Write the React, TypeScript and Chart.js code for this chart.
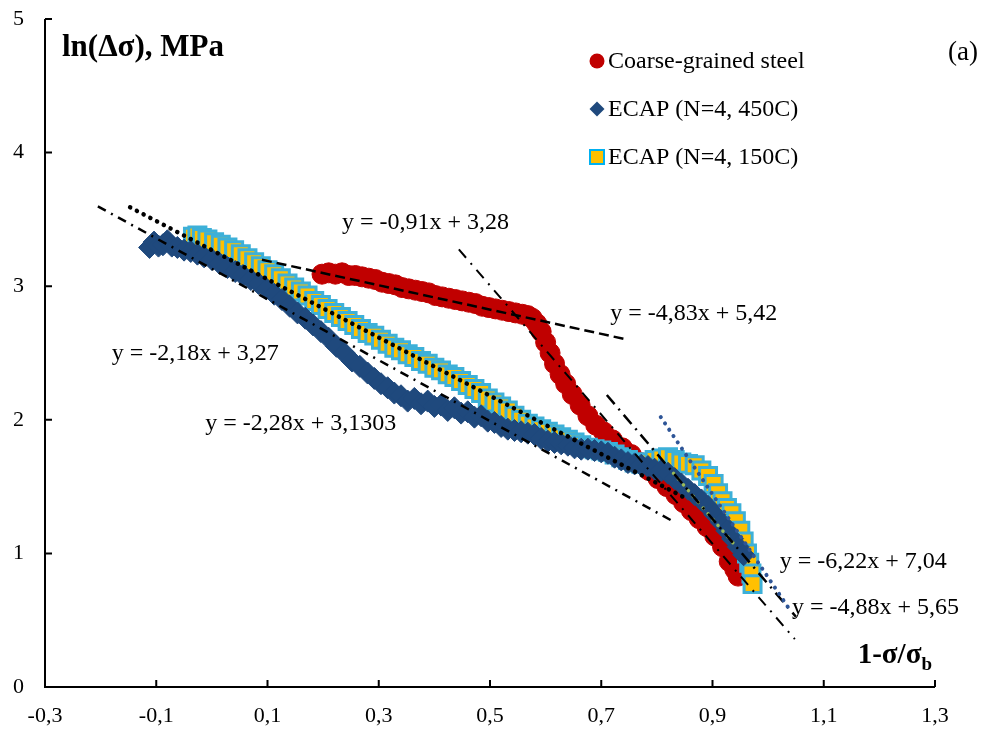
import React, { useEffect, useRef } from 'react';
import { Chart, registerables } from 'chart.js';

Chart.register(...registerables);

// ---------- axis ticks ----------
const xTicks = [-0.3, -0.1, 0.1, 0.3, 0.5, 0.7, 0.9, 1.1, 1.3];
const yTicks = [0, 1, 2, 3, 4, 5];

// ---------- series names ----------
const seriesNames = ['Coarse-grained steel', 'ECAP (N=4, 450C)', 'ECAP (N=4, 150C)'];

// ---------- Coarse-grained steel ----------
const coarseX = [
  0.198, 0.210, 0.222, 0.234, 0.246, 0.258, 0.270, 0.282, 0.294, 0.306,
  0.318, 0.330, 0.342, 0.354, 0.366, 0.378, 0.390, 0.402, 0.414, 0.426,
  0.438, 0.450, 0.462, 0.474, 0.486, 0.498, 0.510, 0.522, 0.534, 0.546,
  0.558, 0.568, 0.576, 0.584, 0.592, 0.600, 0.608, 0.616, 0.626, 0.636,
  0.648, 0.662, 0.676, 0.690, 0.704, 0.720, 0.738, 0.754, 0.770, 0.786,
  0.802, 0.818, 0.834, 0.848, 0.862, 0.876, 0.890, 0.904, 0.918, 0.930,
  0.940, 0.946,
];
const coarseY = [
  3.09, 3.10, 3.09, 3.10, 3.08, 3.08, 3.07, 3.06, 3.05, 3.03,
  3.02, 3.01, 2.99, 2.98, 2.97, 2.96, 2.95, 2.93, 2.92, 2.91,
  2.90, 2.89, 2.88, 2.87, 2.85, 2.84, 2.83, 2.82, 2.81, 2.80,
  2.79, 2.78, 2.76, 2.72, 2.66, 2.58, 2.50, 2.42, 2.34, 2.27,
  2.19, 2.11, 2.03, 1.96, 1.91, 1.85, 1.79, 1.74, 1.68, 1.62,
  1.56, 1.50, 1.44, 1.38, 1.32, 1.26, 1.20, 1.13, 1.05, 0.94,
  0.88, 0.83,
];

// ---------- ECAP (N=4, 450C) ----------
const ecap450X = [
  -0.112, -0.104, -0.096, -0.088, -0.080, -0.072, -0.062, -0.050, -0.038, -0.026,
  -0.014, 0.000, 0.014, 0.028, 0.042, 0.056, 0.070, 0.084, 0.098, 0.112,
  0.126, 0.140, 0.154, 0.168, 0.182, 0.196, 0.210, 0.224, 0.238, 0.252,
  0.266, 0.280, 0.292, 0.304, 0.316, 0.328, 0.340, 0.352, 0.364, 0.376,
  0.388, 0.400, 0.412, 0.424, 0.436, 0.448, 0.460, 0.472, 0.484, 0.496,
  0.508, 0.520, 0.532, 0.544, 0.556, 0.568, 0.580, 0.592, 0.604, 0.616,
  0.628, 0.640, 0.652, 0.664, 0.676, 0.688, 0.700, 0.712, 0.724, 0.736,
  0.748, 0.760, 0.772, 0.784, 0.796, 0.808, 0.820, 0.832, 0.844, 0.856,
  0.868, 0.880, 0.892, 0.904, 0.916, 0.926, 0.936, 0.946, 0.956,
];
const ecap450Y = [
  3.29, 3.33, 3.30, 3.31, 3.34, 3.30, 3.29, 3.27, 3.26, 3.24,
  3.22, 3.20, 3.17, 3.14, 3.11, 3.08, 3.05, 3.02, 2.98, 2.94,
  2.90, 2.85, 2.80, 2.76, 2.71, 2.66, 2.61, 2.55, 2.50, 2.44,
  2.40, 2.35, 2.31, 2.27, 2.24, 2.20, 2.18, 2.14, 2.16, 2.12,
  2.14, 2.10, 2.11, 2.07, 2.09, 2.05, 2.06, 2.02, 2.03, 1.99,
  1.98, 1.95, 1.93, 1.92, 1.91, 1.90, 1.89, 1.86, 1.84, 1.83,
  1.82, 1.81, 1.79, 1.78, 1.78, 1.77, 1.76, 1.75, 1.72, 1.70,
  1.68, 1.67, 1.66, 1.65, 1.63, 1.62, 1.60, 1.56, 1.52, 1.48,
  1.44, 1.40, 1.35, 1.29, 1.23, 1.17, 1.11, 1.05, 0.99,
];

// ---------- ECAP (N=4, 150C) ----------
const ecap150X = [
  -0.034, -0.026, -0.018, -0.008, 0.004, 0.016, 0.028, 0.040, 0.052, 0.064,
  0.076, 0.088, 0.100, 0.112, 0.124, 0.136, 0.148, 0.160, 0.172, 0.184,
  0.196, 0.208, 0.220, 0.232, 0.244, 0.256, 0.268, 0.280, 0.292, 0.304,
  0.316, 0.328, 0.340, 0.352, 0.364, 0.376, 0.388, 0.400, 0.412, 0.424,
  0.436, 0.448, 0.460, 0.472, 0.484, 0.496, 0.508, 0.520, 0.532, 0.544,
  0.556, 0.568, 0.580, 0.592, 0.604, 0.616, 0.628, 0.640, 0.652, 0.664,
  0.676, 0.688, 0.700, 0.712, 0.724, 0.736, 0.748, 0.760, 0.772, 0.784,
  0.796, 0.808, 0.820, 0.832, 0.844, 0.856, 0.868, 0.880, 0.892, 0.902,
  0.910, 0.918, 0.926, 0.934, 0.942, 0.950, 0.956, 0.962, 0.966, 0.970,
  0.972,
];
const ecap150Y = [
  3.37, 3.38, 3.36, 3.35, 3.33, 3.31, 3.29, 3.27, 3.24, 3.21,
  3.18, 3.15, 3.12, 3.09, 3.06, 3.02, 2.99, 2.96, 2.93, 2.89,
  2.86, 2.83, 2.80, 2.77, 2.74, 2.71, 2.68, 2.65, 2.63, 2.60,
  2.57, 2.54, 2.52, 2.49, 2.47, 2.44, 2.42, 2.39, 2.37, 2.34,
  2.32, 2.29, 2.26, 2.23, 2.20, 2.16, 2.13, 2.10, 2.07, 2.03,
  2.00, 1.97, 1.95, 1.93, 1.91, 1.89, 1.87, 1.85, 1.83, 1.81,
  1.79, 1.78, 1.77, 1.76, 1.74, 1.72, 1.70, 1.68, 1.67, 1.68,
  1.70, 1.71, 1.72, 1.70, 1.68, 1.67, 1.66, 1.62, 1.58, 1.52,
  1.45, 1.39, 1.34, 1.30, 1.24, 1.17, 1.09, 1.00, 0.93, 0.85,
  0.77,
];

// ---------- trend lines (y = slope * x + intercept) ----------
const trendSlope = [-0.91, -4.83, -2.18, -2.28, -6.22, -4.88, -4.88];
const trendIntercept = [3.28, 5.42, 3.27, 3.1303, 7.04, 5.65, 5.65];
const trendStart = [0.09, 0.444, -0.147, -0.205, 0.807, 0.71, 0.83];
const trendEnd = [0.745, 1.048, 0.85, 0.827, 1.04, 1.05, 0.94];

// ---------- equation labels ----------
const eqLabels = [
  'y = -0,91x + 3,28',
  'y = -4,83x + 5,42',
  'y = -2,18x + 3,27',
  'y = -2,28x + 3,1303',
  'y = -6,22x + 7,04',
  'y = -4,88x + 5,65',
];
const eqLabelX = [0.234, 0.716, -0.180, -0.012, 1.021, 1.043];
const eqLabelY = [3.477, 2.796, 2.497, 1.974, 0.935, 0.591];

// ---------- styles ----------
const RED = '#C00000';
const BLUE = '#1F497D';
const GOLD = '#FFC000';
const CYAN = '#3DB0D8';
const SERIF = '"Liberation Serif", "Times New Roman", serif';

const trendStyles = [
  { color: '#000', width: 2.5, dash: [10, 5], cap: 'butt' },
  { color: '#000', width: 2, dash: [11, 7, 2, 7], cap: 'butt' },
  { color: '#000', width: 4.5, dash: [0.1, 7.5], cap: 'round' },
  { color: '#000', width: 2.5, dash: [9, 6, 2, 6], cap: 'butt' },
  { color: '#2E5597', width: 4, dash: [0.1, 7.5], cap: 'round' },
  { color: '#000', width: 2.5, dash: [12, 6, 2, 6], cap: 'butt' },
  { color: '#9BBB59', width: 3.5, dash: [0.1, 7.5], cap: 'round' },
];

const zip = (xs: number[], ys: number[]) => xs.map((x, i) => ({ x, y: ys[i] }));
const fmtX = (v: number) => v.toFixed(1).replace('.', ',');

function drawMarker(ctx: CanvasRenderingContext2D, kind: string, x: number, y: number) {
  ctx.save();
  if (kind === 'circle') {
    ctx.fillStyle = RED;
    ctx.beginPath();
    ctx.arc(x, y, 7.5, 0, Math.PI * 2);
    ctx.fill();
  } else if (kind === 'diamond') {
    ctx.fillStyle = BLUE;
    ctx.beginPath();
    ctx.moveTo(x, y - 7.5);
    ctx.lineTo(x + 7.5, y);
    ctx.lineTo(x, y + 7.5);
    ctx.lineTo(x - 7.5, y);
    ctx.closePath();
    ctx.fill();
  } else {
    ctx.fillStyle = GOLD;
    ctx.fillRect(x - 7, y - 7, 14, 14);
    ctx.strokeStyle = '#00B0F0';
    ctx.lineWidth = 2;
    ctx.strokeRect(x - 7, y - 7, 14, 14);
  }
  ctx.restore();
}

const overlayPlugin = {
  id: 'overlay',
  beforeDatasetsDraw(chart: any) {
    const { ctx, chartArea, scales } = chart;
    const xs = scales.x;
    const ys = scales.y;
    ctx.save();
    ctx.strokeStyle = '#000';
    ctx.lineWidth = 2;
    ctx.beginPath();
    ctx.moveTo(chartArea.left, chartArea.top);
    ctx.lineTo(chartArea.left, chartArea.bottom);
    ctx.lineTo(chartArea.right, chartArea.bottom);
    ctx.stroke();
    ctx.beginPath();
    xTicks.forEach((v) => {
      const px = xs.getPixelForValue(v);
      ctx.moveTo(px, chartArea.bottom);
      ctx.lineTo(px, chartArea.bottom - 7);
    });
    yTicks.forEach((v) => {
      const py = ys.getPixelForValue(v);
      ctx.moveTo(chartArea.left, py);
      ctx.lineTo(chartArea.left + 7, py);
    });
    ctx.stroke();
    ctx.restore();
  },
  afterDraw(chart: any) {
    const { ctx, chartArea, scales } = chart;
    const xs = scales.x;
    const ys = scales.y;
    ctx.save();
    ctx.fillStyle = '#000';
    ctx.textAlign = 'left';

    // Y axis title
    ctx.textBaseline = 'alphabetic';
    ctx.font = `bold 31px ${SERIF}`;
    ctx.fillText('ln(Δσ), MPa', chartArea.left + 17, chartArea.top + 37);

    // panel letter
    ctx.font = `27px ${SERIF}`;
    ctx.fillText('(a)', chartArea.right + 13, chartArea.top + 41);

    // X axis title with subscript
    ctx.font = `bold 29px ${SERIF}`;
    const main = '1-σ/σ';
    const mw = ctx.measureText(main).width;
    ctx.font = `bold 19px ${SERIF}`;
    const bw = ctx.measureText('b').width;
    const endX = chartArea.right - 3;
    const startX = endX - mw - bw;
    ctx.font = `bold 29px ${SERIF}`;
    ctx.fillText(main, startX, chartArea.bottom - 24);
    ctx.font = `bold 19px ${SERIF}`;
    ctx.fillText('b', startX + mw, chartArea.bottom - 17);

    // legend
    const kinds = ['circle', 'diamond', 'square'];
    ctx.font = `24px ${SERIF}`;
    ctx.textBaseline = 'middle';
    seriesNames.forEach((name, i) => {
      const cy = chartArea.top + 42 + i * 48;
      drawMarker(ctx, kinds[i], 597, cy);
      ctx.fillStyle = '#000';
      ctx.fillText(name, 608, cy + 1);
    });

    // equation labels
    ctx.font = `24px ${SERIF}`;
    ctx.textBaseline = 'middle';
    eqLabels.forEach((t, i) => {
      ctx.fillText(t, xs.getPixelForValue(eqLabelX[i]), ys.getPixelForValue(eqLabelY[i]));
    });
    ctx.restore();
  },
};

export default function App() {
  const ref = useRef<HTMLCanvasElement | null>(null);

  useEffect(() => {
    if (!ref.current) return;
    const trendSets = trendSlope.map((m, i) => ({
      type: 'scatter' as const,
      label: 'trend' + i,
      data: [
        { x: trendStart[i], y: m * trendStart[i] + trendIntercept[i] },
        { x: trendEnd[i], y: m * trendEnd[i] + trendIntercept[i] },
      ],
      showLine: true,
      pointRadius: 0,
      borderColor: trendStyles[i].color,
      borderWidth: trendStyles[i].width,
      borderDash: trendStyles[i].dash,
      borderCapStyle: trendStyles[i].cap,
      fill: false,
      order: 0,
    }));

    const chart = new Chart(ref.current, {
      type: 'scatter',
      data: {
        datasets: [
          ...trendSets,
          {
            label: seriesNames[1],
            data: zip(ecap450X, ecap450Y),
            pointStyle: 'rectRot',
            pointRadius: 11,
            backgroundColor: BLUE,
            borderColor: BLUE,
            borderWidth: 1,
            order: 1,
          },
          {
            label: seriesNames[2],
            data: zip(ecap150X, ecap150Y),
            pointStyle: 'rect',
            pointRadius: 12,
            backgroundColor: GOLD,
            borderColor: CYAN,
            borderWidth: 3,
            order: 2,
          },
          {
            label: seriesNames[0],
            data: zip(coarseX, coarseY),
            pointStyle: 'circle',
            pointRadius: 10,
            backgroundColor: RED,
            borderColor: RED,
            borderWidth: 1,
            order: 3,
          },
        ] as any,
      },
      options: {
        responsive: false,
        animation: false,
        layout: { padding: { left: 0, right: 55, top: 19, bottom: 0 } },
        plugins: { legend: { display: false }, tooltip: { enabled: false } },
        scales: {
          x: {
            type: 'linear',
            min: -0.3,
            max: 1.3,
            afterBuildTicks: (s: any) => {
              s.ticks = xTicks.map((v) => ({ value: v }));
            },
            afterFit: (s: any) => {
              s.height = 46;
              s.paddingLeft = 0;
              s.paddingRight = 0;
            },
            grid: { display: false, drawTicks: false },
            border: { display: false },
            ticks: {
              autoSkip: false,
              maxRotation: 0,
              padding: 16,
              color: '#000',
              font: { family: SERIF, size: 22 },
              callback: (v: any) => fmtX(Number(v)),
            },
          },
          y: {
            type: 'linear',
            min: 0,
            max: 5,
            afterBuildTicks: (s: any) => {
              s.ticks = yTicks.map((v) => ({ value: v }));
            },
            afterFit: (s: any) => {
              s.width = 45;
              s.paddingTop = 0;
              s.paddingBottom = 0;
            },
            grid: { display: false, drawTicks: false },
            border: { display: false },
            ticks: {
              autoSkip: false,
              padding: 21,
              color: '#000',
              font: { family: SERIF, size: 22 },
              callback: (v: any) => String(v),
            },
          },
        },
      } as any,
      plugins: [overlayPlugin],
    });
    return () => chart.destroy();
  }, []);

  return (
    <div style={{ position: 'absolute', left: 0, top: 0, width: 990, height: 733, background: '#fff' }}>
      <canvas ref={ref} width={990} height={733} style={{ display: 'block' }} />
    </div>
  );
}
